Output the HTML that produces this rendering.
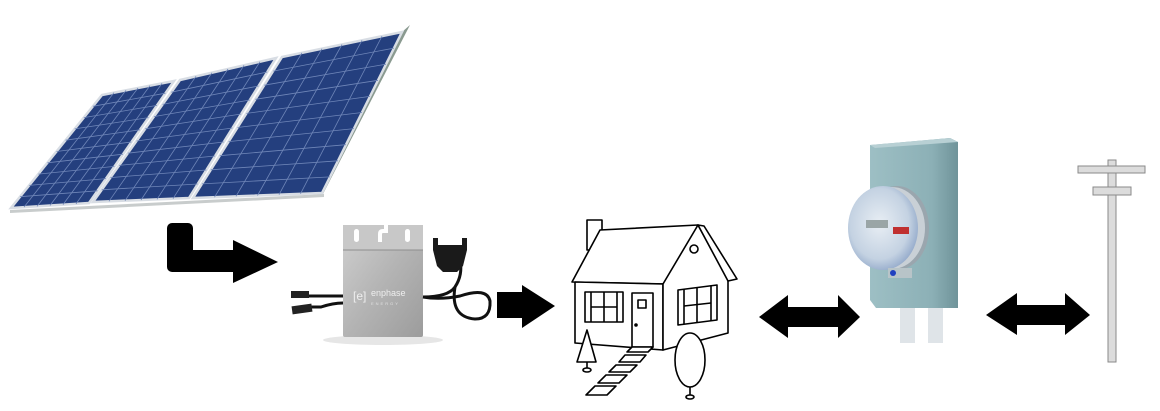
<!DOCTYPE html>
<html><head><meta charset="utf-8"><style>
html,body{margin:0;padding:0;background:#fff;width:1160px;height:411px;overflow:hidden}
svg{display:block}
</style></head><body>
<svg id="s" width="1160" height="411" viewBox="0 0 1160 411" xmlns="http://www.w3.org/2000/svg">
<defs>
<linearGradient id="inv" x1="0" y1="0" x2="1" y2="1"><stop offset="0" stop-color="#d0d0d0"/><stop offset="0.5" stop-color="#b4b4b4"/><stop offset="1" stop-color="#9c9c9c"/></linearGradient>
<linearGradient id="box" x1="0" y1="0" x2="1" y2="0"><stop offset="0" stop-color="#9dbfc4"/><stop offset="0.7" stop-color="#8cb0b6"/><stop offset="1" stop-color="#6f9399"/></linearGradient>
<radialGradient id="met" cx="0.45" cy="0.45" r="0.6"><stop offset="0" stop-color="#e8eef4"/><stop offset="0.7" stop-color="#c4d2e2"/><stop offset="1" stop-color="#8fa6c8"/></radialGradient>
</defs>
<!-- rail -->
<polygon points="402,32 410,25 322,196 316,196" fill="#8a9a90"/>
<polygon points="10,210 324,194 324,197 10,213" fill="#c8cccc"/>
<g id="panels"></g>
<!-- L arrow -->
<path d="M172,223 h16 a5,5 0 0 1 5,5 v22 h40 v-10 l45,22 l-45,21 v-11 h-61 a5,5 0 0 1 -5,-5 v-39 a5,5 0 0 1 5,-5z" fill="#000"/>
<!-- inverter -->
<ellipse cx="383" cy="340" rx="60" ry="5" fill="#e6e6e6"/>
<rect x="343" y="225" width="80" height="112" rx="2" fill="url(#inv)"/>
<rect x="343" y="225" width="80" height="25" fill="#c8c8c8"/>
<line x1="343" y1="250" x2="423" y2="250" stroke="#8e8e8e" stroke-width="1"/>
<rect x="354" y="229" width="5" height="13" rx="2.5" fill="#fff"/>
<rect x="405" y="229" width="5" height="13" rx="2.5" fill="#fff"/>
<path d="M380,242 v-8 q0,-3 3,-3 h3 v-6" stroke="#fff" stroke-width="4" fill="none"/>
<text x="353" y="300" font-family="Liberation Sans, sans-serif" font-size="12" fill="#eeeeee">[e]</text>
<text x="371" y="296" font-family="Liberation Sans, sans-serif" font-size="9" fill="#eeeeee">enphase</text>
<text x="371" y="305" font-family="Liberation Sans, sans-serif" font-size="4" fill="#e0e0e0" letter-spacing="2">ENERGY</text>
<!-- DC cables -->
<path d="M343,296 h-35" stroke="#111" stroke-width="3"/>
<path d="M343,303 q-10,0 -22,4 h-10" stroke="#111" stroke-width="3" fill="none"/>
<rect x="291" y="291" width="18" height="7" fill="#222"/>
<rect x="292" y="305" width="20" height="8" fill="#222" transform="rotate(-8 302 309)"/>
<!-- AC cable and plug -->
<path d="M423,297 q25,0 32,-10 q8,-12 5,-27" stroke="#111" stroke-width="3" fill="none"/>
<path d="M455,287 q-5,30 20,32 q16,0 15,-18 q-3,-14 -30,-5 q-20,4 -37,1" stroke="#111" stroke-width="3" fill="none"/>
<path d="M433,238 h5 v7 h24 v-7 h5 v12 l-4,16 l-6,6 h-14 l-6,-6 l-4,-16z" fill="#1a1a1a"/>
<!-- arrow 2 -->
<path d="M497,292 h25 v-7 l33,21 l-33,22 v-10 h-25z" fill="#000"/>
<!-- house -->
<g stroke="#000" stroke-width="1.6" fill="#fff" stroke-linejoin="round">
<rect x="587" y="220" width="15" height="30"/>
<polygon points="600,230 698,225 667,284 572,282"/>
<polygon points="575,282 663,284 663,350 575,343"/>
<polygon points="663,284 698,225 728,280 728,333 663,350"/>
<polygon points="698,225 704,226 737,279 728,281"/>
<circle cx="694" cy="249" r="4"/>
<rect x="585" y="292" width="38" height="30"/>
<line x1="591" y1="292" x2="591" y2="322"/><line x1="617" y1="292" x2="617" y2="322"/>
<line x1="604" y1="292" x2="604" y2="322"/><line x1="591" y1="307" x2="617" y2="307"/>
<rect x="632" y="293" width="21" height="54"/>
<rect x="638" y="300" width="8" height="8"/>
<circle cx="636" cy="325" r="1" fill="#000"/>
<polygon points="678,290 717,285 717,320 678,325"/>
<line x1="684" y1="289" x2="684" y2="324"/><line x1="711" y1="286" x2="711" y2="321"/>
<line x1="697" y1="288" x2="697" y2="323"/><line x1="684" y1="306" x2="711" y2="303"/>
<polygon points="632,347 653,347 648,352 627,352"/>
<polygon points="625,355 646,355 640,362 619,362"/>
<polygon points="616,365 637,365 630,372 609,372"/>
<polygon points="606,375 627,375 619,383 598,383"/>
<polygon points="595,386 616,386 607,395 586,395"/>
<polygon points="587,330 596,362 577,362"/>
<line x1="587" y1="362" x2="587" y2="369"/><ellipse cx="587" cy="370" rx="4" ry="2"/>
<ellipse cx="690" cy="360" rx="15" ry="27"/>
<line x1="690" y1="387" x2="690" y2="396"/><ellipse cx="690" cy="397" rx="4" ry="2"/>
</g>
<!-- arrow 3 -->
<path d="M759,317 l29,-22 v12 h50 v-12 l22,22 l-22,21 v-11 h-50 v11z" fill="#000"/>
<!-- meter -->
<rect x="900" y="305" width="15" height="38" fill="#dfe4e8"/>
<rect x="928" y="305" width="15" height="38" fill="#dfe4e8"/>
<polygon points="870,145 950,138 958,142 958,308 876,308 870,300" fill="url(#box)"/>
<polygon points="870,145 950,138 958,142 875,148" fill="#b8d0d4"/>
<ellipse cx="897" cy="228" rx="32" ry="42" fill="#9aa6ae"/>
<ellipse cx="892" cy="228" rx="33" ry="41" fill="#c9d0d6"/>
<ellipse cx="883" cy="228" rx="35" ry="42" fill="url(#met)"/>
<rect x="866" y="220" width="22" height="8" fill="#9aa5a6"/>
<rect x="893" y="227" width="16" height="7" fill="#c03030"/>
<rect x="888" y="268" width="24" height="10" fill="#b8c4c8"/>
<circle cx="893" cy="273" r="3" fill="#2040c0"/>
<!-- arrow 4 -->
<path d="M986,315 l31,-22 v12 h48 v-12 l25,22 l-25,20 v-10 h-48 v10z" fill="#000"/>
<!-- pole -->
<g fill="#dcdcdc" stroke="#8a8a8a" stroke-width="1">
<rect x="1108" y="160" width="8" height="202"/>
<rect x="1078" y="166" width="67" height="7"/>
<rect x="1093" y="187" width="38" height="8"/>
</g>
</svg>
<script>
(function(){
var ns="http://www.w3.org/2000/svg",g=document.getElementById("panels");
var P=[[[102,95],[174,81],[89,203],[11,208]],[[180,80],[276,58],[189,198],[93,202]],[[282,57],[402,32],[322,193],[193,198]]];
function L(a,b,t){return [a[0]+(b[0]-a[0])*t,a[1]+(b[1]-a[1])*t];}
P.forEach(function(p){
 var pg=document.createElementNS(ns,"polygon");
 pg.setAttribute("points",p.map(function(q){return q.join(",")}).join(" "));
 pg.setAttribute("fill","#243f7e");pg.setAttribute("stroke","#d8dde4");pg.setAttribute("stroke-width","2.5");g.appendChild(pg);
 for(var i=1;i<6;i++){var a=L(p[0],p[1],i/6),b=L(p[3],p[2],i/6);ln(a,b);}
 for(var j=1;j<10;j++){var a=L(p[0],p[3],j/10),b=L(p[1],p[2],j/10);ln(a,b);}
});
function ln(a,b){var l=document.createElementNS(ns,"line");l.setAttribute("x1",a[0]);l.setAttribute("y1",a[1]);l.setAttribute("x2",b[0]);l.setAttribute("y2",b[1]);l.setAttribute("stroke","#6f86b8");l.setAttribute("stroke-width","0.8");g.appendChild(l);}
})();
</script>
</body></html>
